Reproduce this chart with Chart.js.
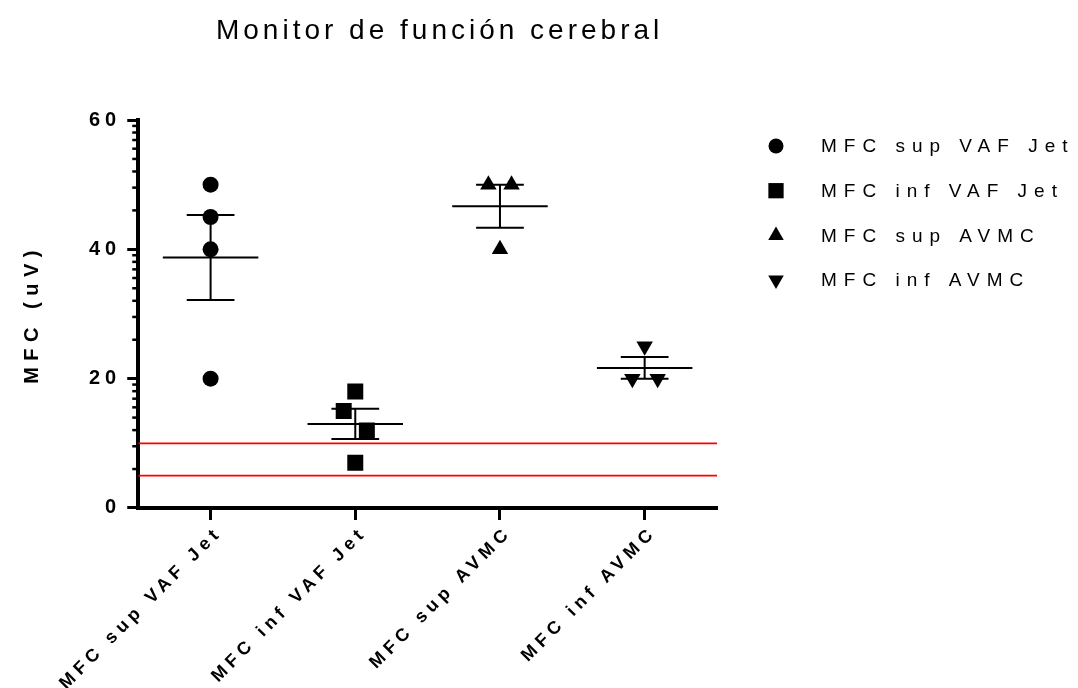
<!DOCTYPE html>
<html>
<head>
<meta charset="utf-8">
<script src="https://cdn.jsdelivr.net/npm/chart.js"></script>
<style>
  html, body { margin: 0; padding: 0; background: #fff; }
  #wrap { width: 1078px; height: 688px; }
</style>
</head>
<body>
<div id="wrap"><canvas id="chart"></canvas></div>
<script>
const chartTitle = "Monitor de función cerebral";
const axisTitle = "MFC (uV)";
const groups = ["MFC sup VAF Jet", "MFC inf VAF Jet", "MFC sup AVMC", "MFC inf AVMC"];
const supVafJet = [50, 45, 40, 20];
const infVafJet = [18, 15, 12, 7];
const supAvmc = [50, 50, 40];
const infAvmc = [25, 20, 20];
const refLines = [10, 5];
const yTicks = [0, 20, 40, 60];

// sideways spread of points that would overlap (category units)
const spreadSupVafJet = [0, 0, 0, 0];
const spreadInfVafJet = [0, -0.08, 0.08, 0];
const spreadSupAvmc = [-0.08, 0.08, 0];
const spreadInfAvmc = [0, -0.085, 0.09];

const family = "'Liberation Sans', Arial, sans-serif";
const xMin = -0.5, xMax = 3.5;
const meanHalf = 0.33, capHalf = 0.165;

const mean = function (v) {
  return v.reduce((a, b) => a + b, 0) / v.length;
};

const sem = function (v) {
  const m = mean(v);
  const ss = v.reduce((a, b) => a + (b - m) * (b - m), 0);
  return Math.sqrt(ss / (v.length - 1)) / Math.sqrt(v.length);
};

const pointSet = function (label, values, spread, i, style, radius, rotation) {
  return {
    label: label,
    data: values.map((v, k) => ({ x: i + spread[k], y: v })),
    pointStyle: style,
    pointRadius: radius,
    pointHoverRadius: radius,
    pointRotation: rotation,
    pointBackgroundColor: "#000",
    pointBorderColor: "#000",
    pointBorderWidth: 0,
    backgroundColor: "#000",
    borderColor: "#000",
    isGroup: true,
  };
};

const errorSet = function (values, i) {
  const m = mean(values);
  const s = sem(values);
  return {
    data: [
      { x: i - meanHalf, y: m }, { x: i + meanHalf, y: m }, { x: i, y: null },
      { x: i - capHalf, y: m + s }, { x: i + capHalf, y: m + s }, { x: i, y: null },
      { x: i - capHalf, y: m - s }, { x: i + capHalf, y: m - s }, { x: i, y: null },
      { x: i, y: m - s }, { x: i, y: m + s },
    ],
    showLine: true,
    spanGaps: false,
    borderColor: "#000",
    borderWidth: 2,
    pointRadius: 0,
    pointHoverRadius: 0,
  };
};

const refSet = function (v) {
  return {
    data: [{ x: xMin, y: v }, { x: xMax, y: v }],
    showLine: true,
    borderColor: "#ff0000",
    borderWidth: 1.8,
    pointRadius: 0,
    pointHoverRadius: 0,
  };
};

const datasets = [
  pointSet(groups[0], supVafJet, spreadSupVafJet, 0, "circle", 8, 0),
  pointSet(groups[1], infVafJet, spreadInfVafJet, 1, "rect", 11.3, 0),
  pointSet(groups[2], supAvmc, spreadSupAvmc, 2, "triangle", 9.5, 0),
  pointSet(groups[3], infAvmc, spreadInfAvmc, 3, "triangle", 9.5, 180),
  errorSet(supVafJet, 0),
  errorSet(infVafJet, 1),
  errorSet(supAvmc, 2),
  errorSet(infAvmc, 3),
  ...refLines.map(refSet),
];

const textPlugin = {
  id: "textPlugin",
  beforeUpdate(chart) {
    chart.ctx.letterSpacing = "5px";
  },
  afterLayout(chart) {
    const y = chart.scales.y;
    if (y && !y._spaced) {
      const orig = y.drawTitle;
      y.drawTitle = function () {
        this.ctx.save();
        this.ctx.letterSpacing = "6.5px";
        orig.apply(this, arguments);
        this.ctx.restore();
      };
      y._spaced = true;
    }
  },
  beforeDraw(chart) {
    chart.ctx.letterSpacing = "5px";
  },
  afterDraw(chart) {
    const { ctx, chartArea } = chart;
    const y = chart.scales.y;
    ctx.save();

    // minor ticks, Prism style (log spaced inside each major step)
    ctx.strokeStyle = "#000";
    ctx.lineWidth = 2.5;
    for (let j = 0; j < yTicks.length - 1; j++) {
      for (let k = 2; k <= 9; k++) {
        const v = yTicks[j] + (yTicks[j + 1] - yTicks[j]) * Math.log10(k);
        const py = y.getPixelForValue(v);
        ctx.beginPath();
        ctx.moveTo(chartArea.left - 6, py);
        ctx.lineTo(chartArea.left, py);
        ctx.stroke();
      }
    }

    // title
    ctx.fillStyle = "#000";
    ctx.letterSpacing = "4px";
    ctx.font = "28px " + family;
    ctx.textAlign = "center";
    ctx.textBaseline = "middle";
    ctx.fillText(chartTitle, (chartArea.left + chartArea.right) / 2 + 12, 31);

    // legend
    ctx.letterSpacing = "7px";
    ctx.font = "19px " + family;
    ctx.textAlign = "left";
    chart.data.datasets.filter((d) => d.isGroup).forEach((d, i) => {
      const py = chartArea.top + 26 + i * 44.7;
      Chart.helpers.drawPoint(ctx, {
        pointStyle: d.pointStyle,
        rotation: d.pointRotation,
        radius: d.pointRadius - 0.5,
        borderWidth: 0,
      }, chartArea.right + 59, py);
      ctx.fillText(d.label, chartArea.right + 104, py + 1);
    });
    ctx.restore();
  },
};

new Chart(document.getElementById("chart"), {
  type: "scatter",
  data: { datasets: datasets },
  plugins: [textPlugin],
  options: {
    responsive: true,
    maintainAspectRatio: false,
    animation: false,
    events: [],
    layout: { padding: { top: 120, right: 361, left: 0, bottom: -8 } },
    plugins: {
      legend: { display: false },
      title: { display: false },
      tooltip: { enabled: false },
    },
    scales: {
      x: {
        type: "linear",
        min: xMin,
        max: xMax,
        afterBuildTicks: (s) => {
          s.ticks = groups.map((g, i) => ({ value: i }));
        },
        ticks: {
          callback: (v) => groups[v],
          minRotation: 45,
          maxRotation: 45,
          autoSkip: false,
          color: "#000",
          padding: 2,
          labelOffset: 9,
          font: { family: family, size: 18, weight: "bold" },
        },
        grid: { drawOnChartArea: false, tickLength: 12, tickWidth: 3, tickColor: "#000" },
        border: { color: "#000", width: 4 },
      },
      y: {
        min: 0,
        max: 60,
        afterBuildTicks: (s) => {
          s.ticks = yTicks.map((v) => ({ value: v }));
        },
        ticks: {
          color: "#000",
          padding: 6,
          font: { family: family, size: 20, weight: "bold" },
        },
        grid: { drawOnChartArea: false, tickLength: 11, tickWidth: 3, tickColor: "#000" },
        border: { color: "#000", width: 4 },
        title: {
          display: true,
          text: axisTitle,
          color: "#000",
          padding: { top: 20, bottom: 39 },
          font: { family: family, size: 20, weight: "bold" },
        },
      },
    },
  },
});
</script>
</body>
</html>
